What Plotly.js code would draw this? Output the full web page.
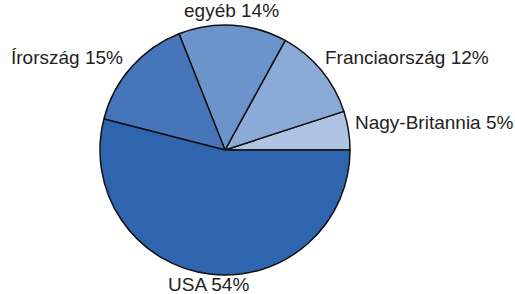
<!DOCTYPE html>
<html>
<head>
<meta charset="utf-8">
<script src="https://cdn.plot.ly/plotly-3.0.1.min.js"></script>
<style>html,body{margin:0;padding:0;background:#fff;}#chart{width:515px;height:294px;}</style>
</head>
<body>
<div id="chart"></div>
<script>
const labels = ["Nagy-Britannia", "Franciaország", "egyéb", "Írország", "USA"];
const values = [5, 12, 14, 15, 54];
const colors = ["#AFC4E4", "#8BABD6", "#6A94CA", "#4676B9", "#2E65AE"];

// label anchor positions in pixels (x, y of text centre)
const labelPos = [[434, 122], [407, 57], [231, 10], [67, 57], [208, 284]];

const W = 515, H = 294;

const trace = {
  type: "pie",
  labels: labels,
  values: values,
  sort: false,
  direction: "counterclockwise",
  rotation: 72,
  marker: {colors: colors, line: {color: "#111111", width: 1.5}},
  textinfo: "none",
  hoverinfo: "none",
  showlegend: false,
  domain: {x: [100/W, 350/W], y: [19/H, 269/H]}
};

const annotations = labels.map((l, i) => ({
  text: l + " " + values[i] + "%",
  xref: "paper", yref: "paper",
  x: labelPos[i][0] / W, y: 1 - labelPos[i][1] / H,
  xanchor: "center", yanchor: "middle",
  showarrow: false,
  font: {family: "Liberation Sans, Arial, sans-serif", size: 19, color: "#222222"}
}));

Plotly.newPlot("chart", [trace], {
  width: W, height: H,
  margin: {l: 0, r: 0, t: 0, b: 0},
  paper_bgcolor: "#ffffff",
  showlegend: false,
  annotations: annotations
}, {staticPlot: true});
</script>
</body>
</html>
